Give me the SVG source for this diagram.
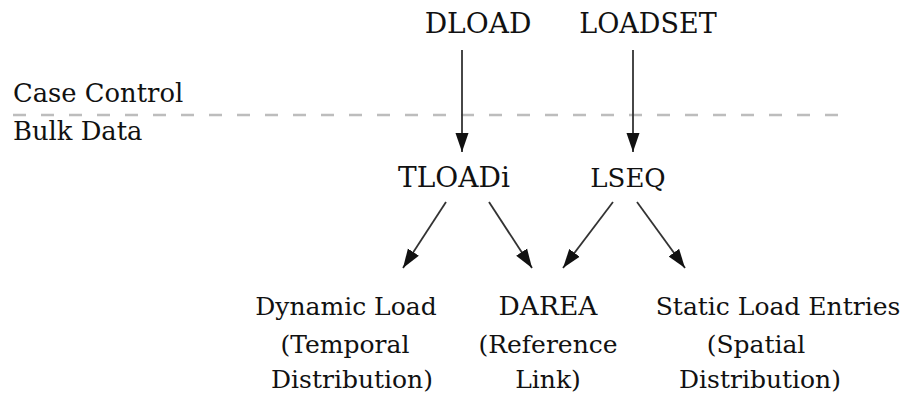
<svg xmlns="http://www.w3.org/2000/svg" width="903" height="393" viewBox="0 0 903 393">
<style>
text{font-family:"DejaVu Serif","Liberation Serif",serif;font-size:25px;fill:#111}
.c{text-anchor:middle}
.k{font-size:28px}
.e{stroke:#333;stroke-width:1.8;fill:none;marker-end:url(#ah)}
.d{stroke:#bdbdbd;stroke-width:2.4;stroke-dasharray:13 15;fill:none}
</style>
<defs>
<marker id="ah" markerUnits="userSpaceOnUse" markerWidth="20" markerHeight="14" refX="19" refY="7" orient="auto">
<path d="M0,0.5 L19,7 L0,13.5 Z" fill="#111"/>
</marker>
</defs>
<rect width="903" height="393" fill="#fff"/>
<line class="d" x1="13" y1="115" x2="838" y2="115"/>
<g id="labels">
<text x="13" y="102" style="font-size:25.8px">Case Control</text>
<text x="13" y="140" style="font-size:25.8px">Bulk Data</text>
</g>
<g id="connectors">
<line class="e" x1="462" y1="50" x2="462" y2="152"/>
<line class="e" x1="633" y1="50" x2="633" y2="152"/>
<line class="e" x1="446" y1="202" x2="403" y2="268"/>
<line class="e" x1="489" y1="202" x2="532" y2="268"/>
<line class="e" x1="613" y1="202" x2="563" y2="268"/>
<line class="e" x1="637" y1="202" x2="685" y2="268"/>
</g>
<g id="dload"><text class="c k" x="478" y="33">DLOAD</text></g>
<g id="loadset"><text class="c" x="648" y="33" style="font-size:27px">LOADSET</text></g>
<g id="tloadi"><text class="c k" x="454" y="187">TLOADi</text></g>
<g id="lseq"><text class="c" x="628" y="187" style="font-size:26px">LSEQ</text></g>
<g id="dynamic">
<text class="c" x="346" y="315">Dynamic Load</text>
<text class="c" x="345" y="353">(Temporal</text>
<text class="c" x="352" y="388">Distribution)</text>
</g>
<g id="darea">
<text class="c" x="548" y="315" style="font-size:26.5px">DAREA</text>
<text class="c" x="548" y="353">(Reference</text>
<text class="c" x="548" y="388">Link)</text>
</g>
<g id="static">
<text class="c" x="778" y="315">Static Load Entries</text>
<text class="c" x="756" y="353">(Spatial</text>
<text class="c" x="760" y="388">Distribution)</text>
</g>
</svg>
